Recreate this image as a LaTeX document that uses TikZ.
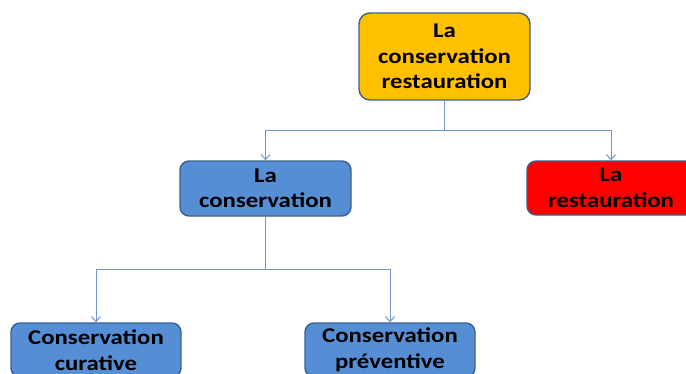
\documentclass[tikz,border=0pt]{standalone}
\usepackage{fontspec}
\newfontfamily\boxfont{Carlito}[FakeStretch=1.18]
\usetikzlibrary{arrows.meta}
\definecolor{gold}{RGB}{255,192,0}
\definecolor{bluefill}{RGB}{85,142,213}
\definecolor{redfill}{RGB}{255,0,0}
\definecolor{edge}{RGB}{60,96,140}
\definecolor{link}{RGB}{110,152,205}
\tikzset{
  box/.style={draw=edge, line width=1.4pt, rounded corners=9pt, align=center,
    font=\boxfont\bfseries\fontsize{21}{25.5}\selectfont, text=black,
    minimum width=170pt, minimum height=54pt, inner sep=0pt},
  link/.style={draw=link, line width=1pt, -{Straight Barb[length=5pt,width=9pt]}}
}
\begin{document}
\begin{tikzpicture}[x=1pt,y=-1pt]
\useasboundingbox (0,0) rectangle (686,373);
\clip (0,0) rectangle (686,373);
\node[box, fill=gold, minimum width=171pt, minimum height=87pt, rounded corners=11pt] (top) at (444.5,56.5) {La\\conservation\\restauration};
\node[box, fill=bluefill, minimum width=171pt, minimum height=55pt] (cons) at (265.5,188.5) {La\\conservation};
\node[box, fill=redfill, minimum width=168pt] (rest) at (611,188) {La\\restauration};
\node[box, fill=bluefill] (cur) at (96,350) {Conservation\\curative};
\node[box, fill=bluefill] (prev) at (390,350) {Conservation\\préventive};
\coordinate (j1) at (444.5,130);
\coordinate (j2) at (265.5,269);
\draw[link] (top.south) -- (j1) -| (cons.north);
\draw[link] (top.south) -- (j1) -| (rest.north);
\draw[link] (cons.south) -- (j2) -| (cur.north);
\draw[link] (cons.south) -- (j2) -| (prev.north);
\end{tikzpicture}
\end{document}
